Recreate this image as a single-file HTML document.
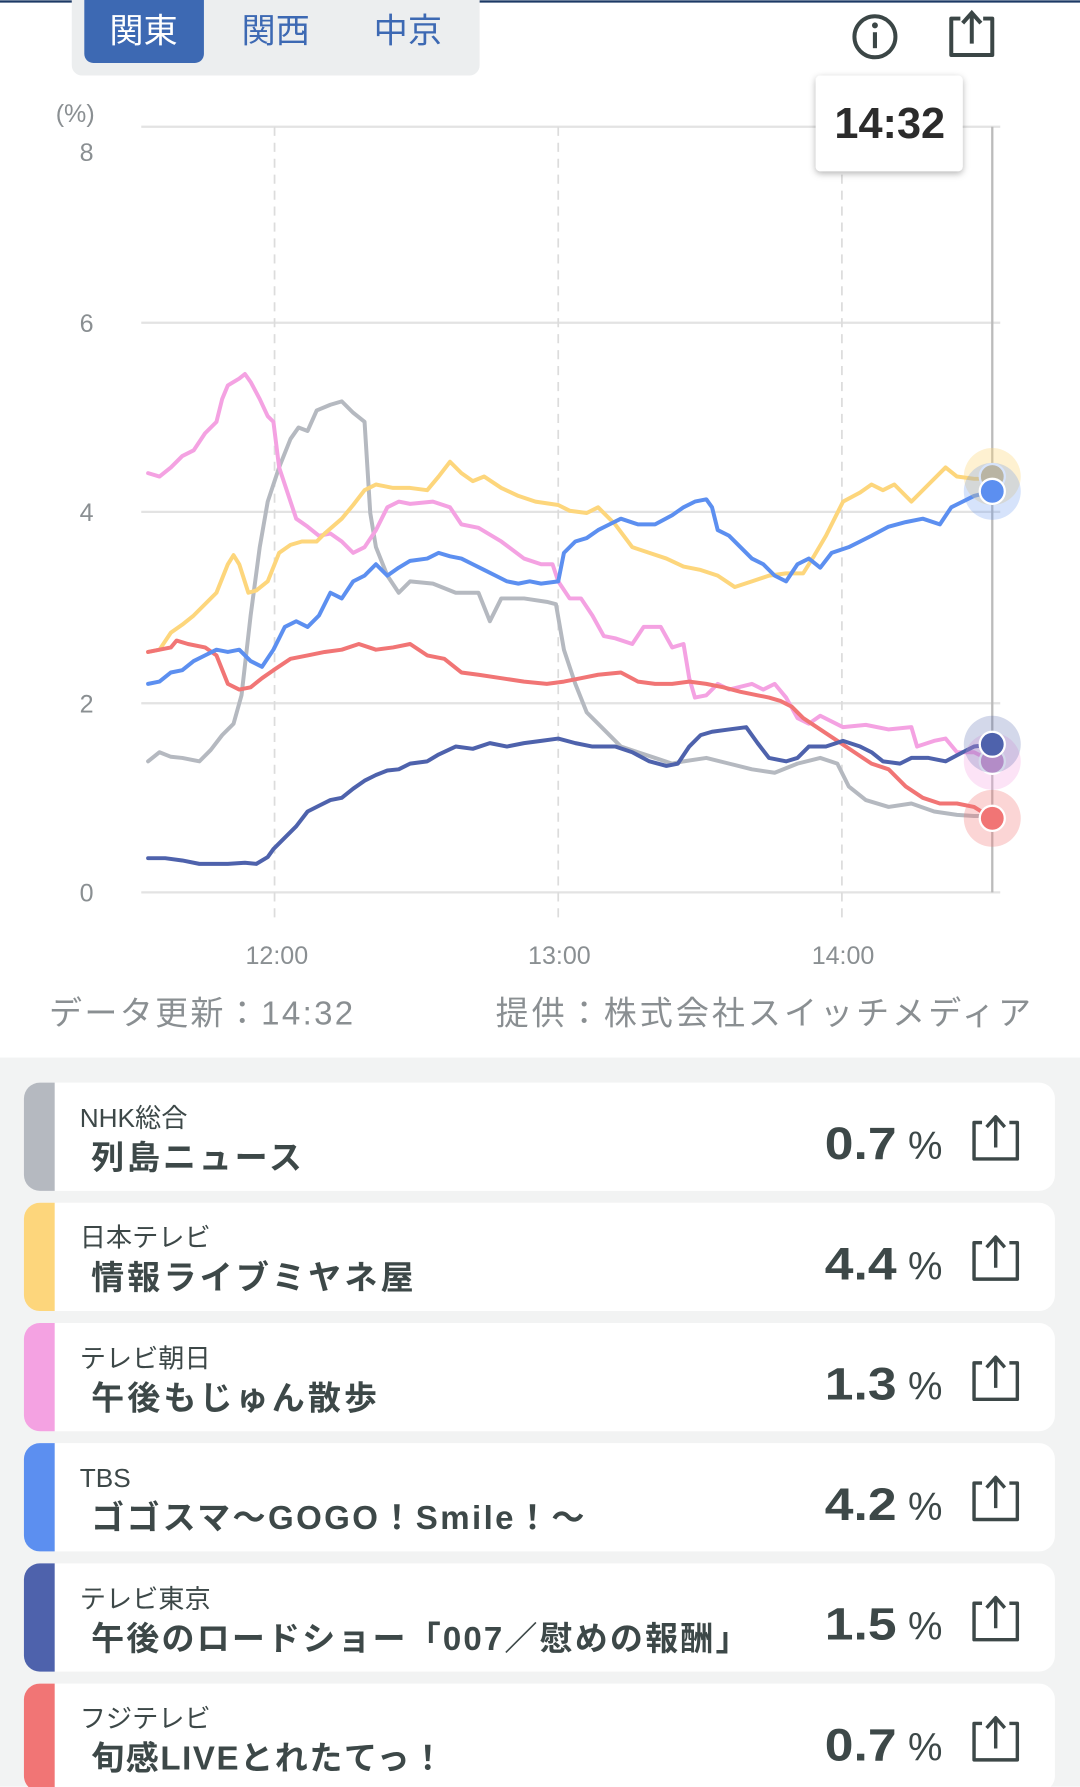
<!DOCTYPE html>
<html><head><meta charset="utf-8"><style>
html,body{margin:0;padding:0;background:#fff;}
svg{display:block;}
text{font-family:"Liberation Sans","Noto Sans CJK JP",sans-serif;}
</style></head><body>
<svg width="1080" height="1787" viewBox="0 0 948 1568" xmlns="http://www.w3.org/2000/svg">
<defs>
<filter id="sh" x="-20%" y="-20%" width="140%" height="150%"><feDropShadow dx="0" dy="2" stdDeviation="3" flood-color="#000" flood-opacity="0.3"/></filter>
</defs>
<rect x="0" y="0" width="948" height="1568" fill="#fff"/>
<rect x="0" y="0" width="948" height="2" fill="#1d3a66"/>
<!-- tabs -->
<rect x="63" y="-10" width="358" height="76" rx="9" fill="#eceeef"/>
<rect x="74" y="-10" width="105" height="65" rx="8" fill="#3d69b3"/>
<text x="126" y="37" font-size="30" fill="#fff" text-anchor="middle">関東</text>
<text x="242" y="37" font-size="30" fill="#3d69b3" text-anchor="middle">関西</text>
<text x="358" y="37" font-size="30" fill="#3d69b3" text-anchor="middle">中京</text>
<!-- icons -->
<circle cx="768" cy="32" r="18" fill="none" stroke="#3b4646" stroke-width="3.5"/>
<circle cx="768" cy="22" r="2.6" fill="#3b4646"/>
<rect x="766.2" y="28" width="3.6" height="14" fill="#3b4646"/>
<path d="M843 16 L835 16 L835 48 L871 48 L871 16 L863 16" fill="none" stroke="#3b4646" stroke-width="3.5" stroke-linejoin="round"/>
<path d="M853 38 L853 12 M845 20 L853 11 L861 20" fill="none" stroke="#3b4646" stroke-width="3.5"/>
<!-- grid -->
<g stroke="#e3e3e3" stroke-width="2">
<line x1="124" y1="111" x2="878" y2="111"/>
<line x1="124" y1="283" x2="878" y2="283"/>
<line x1="124" y1="449" x2="878" y2="449"/>
<line x1="124" y1="617" x2="878" y2="617"/>
<line x1="124" y1="783" x2="878" y2="783"/>
</g>
<g stroke="#dcdcdc" stroke-width="1.5" stroke-dasharray="8,6">
<line x1="241" y1="111" x2="241" y2="810"/>
<line x1="490" y1="111" x2="490" y2="810"/>
<line x1="739" y1="111" x2="739" y2="810"/>
</g>
<line x1="871" y1="111" x2="871" y2="783" stroke="#bbb" stroke-width="2"/>
<g font-size="22" fill="#8a8f92" text-anchor="middle">
<text x="66" y="107">(%)</text>
<text x="76" y="141">8</text>
<text x="76" y="291">6</text>
<text x="76" y="457">4</text>
<text x="76" y="625">2</text>
<text x="76" y="791">0</text>
<text x="243" y="846">12:00</text>
<text x="491" y="846">13:00</text>
<text x="740" y="846">14:00</text>
</g>
<g fill="none" stroke-width="3.5" stroke-linejoin="round" stroke-linecap="round">
<polyline stroke="#b5b9c0" points="130,668 140,660 150,664 160,665 175,668 185,658 195,645 205,635 212,610 220,540 228,480 235,440 245,410 255,385 262,375 270,378 278,360 290,355 300,352 310,362 320,370 325,450 330,480 340,505 350,520 360,510 380,512 400,520 420,520 430,545 440,525 460,525 480,528 488,530 495,570 505,600 515,625 530,640 545,655 560,660 575,665 590,670 600,668 620,665 640,670 660,675 680,678 700,670 720,665 735,670 745,690 760,702 780,708 800,705 820,712 840,715 855,716 871,716"/>
<polyline stroke="#f4a2e2" points="130,415 140,418 150,410 160,400 170,395 180,380 190,370 195,350 200,338 210,332 215,328 220,335 228,350 235,365 240,370 245,410 255,440 260,455 270,462 280,470 290,468 300,475 310,485 320,480 330,465 340,445 350,440 360,442 380,440 395,445 405,460 420,463 440,475 460,490 475,495 485,495 490,510 500,525 510,525 520,540 530,558 540,560 555,565 565,550 580,550 590,568 600,565 605,595 610,612 620,610 630,600 640,605 660,600 670,605 680,600 690,612 700,630 710,635 720,628 740,638 760,636 780,640 800,638 805,655 820,650 830,648 840,660 855,660 871,668"/>
<polyline stroke="#fdd67c" points="130,572 140,570 150,555 160,548 170,540 180,530 190,520 200,495 205,487 210,495 218,520 225,518 235,510 245,485 255,478 265,475 278,475 285,468 300,455 310,443 320,430 330,425 345,428 360,428 375,430 385,418 395,405 405,415 415,422 425,418 440,428 455,435 470,440 490,443 500,448 515,450 525,445 540,460 555,480 570,485 585,490 600,497 615,500 630,505 645,515 660,510 675,505 690,503 705,503 715,487 725,470 740,440 755,432 765,425 775,430 785,425 800,440 815,425 830,410 840,418 855,420 871,420"/>
<polyline stroke="#f17575" points="130,572 140,570 150,568 155,562 165,565 180,568 190,575 200,600 210,605 220,603 230,595 240,588 255,578 270,575 285,572 300,570 315,565 330,570 345,568 360,565 375,575 390,578 405,590 420,592 440,595 460,598 480,600 495,598 510,595 525,592 545,590 560,598 575,600 590,600 605,598 620,600 635,603 650,607 665,610 675,612 685,615 695,620 705,630 720,640 735,650 750,660 765,670 780,675 795,690 810,700 825,705 840,705 855,708 871,718"/>
<polyline stroke="#5c8ff0" points="130,600 140,598 150,590 160,588 170,580 180,575 190,570 200,572 210,570 220,580 230,585 240,570 250,550 260,545 270,550 280,540 290,520 300,525 310,510 320,505 330,495 340,505 350,498 360,492 375,490 385,485 395,488 405,490 415,495 425,500 435,505 445,510 455,512 465,510 475,512 490,510 495,485 505,475 515,472 525,465 535,460 545,455 560,460 575,460 590,452 600,445 610,440 620,438 625,445 630,465 640,470 650,480 660,490 670,495 680,505 690,510 700,495 710,490 720,498 730,485 745,480 755,475 765,470 780,462 795,458 810,455 825,460 835,445 845,440 855,435 871,431"/>
<polyline stroke="#4e62ac" points="130,753 145,753 160,755 175,758 200,758 215,757 225,758 235,752 240,745 250,735 260,725 270,712 280,707 290,702 300,700 310,692 320,685 330,680 340,676 350,675 360,670 375,668 385,662 400,655 415,657 430,652 445,655 460,652 475,650 490,648 505,652 520,655 540,655 555,660 570,668 585,672 595,670 605,655 615,645 625,642 640,640 655,638 665,652 675,665 690,668 700,665 710,655 725,655 740,650 755,655 765,660 775,668 790,670 800,665 815,665 830,668 845,660 855,655 871,653"/>
</g>
<!-- dots -->
<circle cx="871" cy="418" r="25" fill="#fdd67c" opacity="0.35"/>
<circle cx="871" cy="418" r="11" fill="#d8c08a" stroke="#fff" stroke-width="2"/>
<circle cx="871" cy="431" r="25" fill="#5c8ff0" opacity="0.25"/>
<circle cx="871" cy="431" r="11" fill="#5c8ff0" stroke="#fff" stroke-width="2"/>
<circle cx="871" cy="668" r="25" fill="#f4a2e2" opacity="0.3"/>
<circle cx="871" cy="668" r="11" fill="#d49ad0" stroke="#fff" stroke-width="2"/>
<circle cx="871" cy="653" r="25" fill="#4e62ac" opacity="0.25"/>
<circle cx="871" cy="653" r="11" fill="#4e62ac" stroke="#fff" stroke-width="2"/>
<circle cx="871" cy="718" r="25" fill="#f17575" opacity="0.3"/>
<circle cx="871" cy="718" r="11" fill="#f17575" stroke="#fff" stroke-width="2"/>
<!-- tooltip -->
<rect x="716" y="66" width="129" height="84" rx="4" fill="#fff" filter="url(#sh)"/>
<text x="781" y="121" font-size="38" font-weight="bold" fill="#2b2b2b" text-anchor="middle">14:32</text>
<!-- footer -->
<text x="43" y="899" font-size="29" fill="#8a8f92" textLength="267" lengthAdjust="spacing">データ更新：14:32</text>
<text x="435" y="899" font-size="29" fill="#8a8f92" textLength="470" lengthAdjust="spacing">提供：株式会社スイッチメディア</text>
<rect x="0" y="928" width="948" height="640" fill="#f2f3f3"/>
<!-- cards -->
<g>
<g transform="translate(0,0)">
<rect x="21" y="950" width="905" height="95" rx="14" fill="#fff"/>
<path d="M35 950 H48 V1045 H35 A14 14 0 0 1 21 1031 V964 A14 14 0 0 1 35 950Z" fill="#b5b9c0"/>
</g>
<g transform="translate(0,105.5)">
<rect x="21" y="950" width="905" height="95" rx="14" fill="#fff"/>
<path d="M35 950 H48 V1045 H35 A14 14 0 0 1 21 1031 V964 A14 14 0 0 1 35 950Z" fill="#fdd67c"/>
</g>
<g transform="translate(0,211)">
<rect x="21" y="950" width="905" height="95" rx="14" fill="#fff"/>
<path d="M35 950 H48 V1045 H35 A14 14 0 0 1 21 1031 V964 A14 14 0 0 1 35 950Z" fill="#f4a2e2"/>
</g>
<g transform="translate(0,316.5)">
<rect x="21" y="950" width="905" height="95" rx="14" fill="#fff"/>
<path d="M35 950 H48 V1045 H35 A14 14 0 0 1 21 1031 V964 A14 14 0 0 1 35 950Z" fill="#5c8ff0"/>
</g>
<g transform="translate(0,422)">
<rect x="21" y="950" width="905" height="95" rx="14" fill="#fff"/>
<path d="M35 950 H48 V1045 H35 A14 14 0 0 1 21 1031 V964 A14 14 0 0 1 35 950Z" fill="#4e62ac"/>
</g>
<g transform="translate(0,527.5)">
<rect x="21" y="950" width="905" height="95" rx="14" fill="#fff"/>
<path d="M35 950 H48 V1045 H35 A14 14 0 0 1 21 1031 V964 A14 14 0 0 1 35 950Z" fill="#f17575"/>
</g>
</g>
<g fill="#3d4848">
<g font-size="23">
<text x="70" y="989">NHK総合</text>
<text x="70" y="1094">日本テレビ</text>
<text x="70" y="1200">テレビ朝日</text>
<text x="70" y="1305">TBS</text>
<text x="70" y="1411">テレビ東京</text>
<text x="70" y="1516">フジテレビ</text>
</g>
<g font-size="29" font-weight="bold">
<text x="80" y="1026" textLength="185" lengthAdjust="spacing">列島ニュース</text>
<text x="80" y="1131" textLength="283" lengthAdjust="spacing">情報ライブミヤネ屋</text>
<text x="80" y="1237" textLength="251" lengthAdjust="spacing">午後もじゅん散歩</text>
<text x="80" y="1342" textLength="433" lengthAdjust="spacing">ゴゴスマ〜GOGO！Smile！〜</text>
<text x="80" y="1448" textLength="577" lengthAdjust="spacing">午後のロードショー「007／慰めの報酬」</text>
<text x="80" y="1553" textLength="310" lengthAdjust="spacing">旬感LIVEとれたてっ！</text>
</g>
<g>
<text x="724" y="1017" textLength="63" lengthAdjust="spacingAndGlyphs" font-size="40" font-weight="bold">0.7</text>
<text x="724" y="1123" textLength="63" lengthAdjust="spacingAndGlyphs" font-size="40" font-weight="bold">4.4</text>
<text x="724" y="1228" textLength="63" lengthAdjust="spacingAndGlyphs" font-size="40" font-weight="bold">1.3</text>
<text x="724" y="1334" textLength="63" lengthAdjust="spacingAndGlyphs" font-size="40" font-weight="bold">4.2</text>
<text x="724" y="1439" textLength="63" lengthAdjust="spacingAndGlyphs" font-size="40" font-weight="bold">1.5</text>
<text x="724" y="1545" textLength="63" lengthAdjust="spacingAndGlyphs" font-size="40" font-weight="bold">0.7</text>
</g>
<g font-size="34">
<text x="797" y="1017">%</text>
<text x="797" y="1123">%</text>
<text x="797" y="1228">%</text>
<text x="797" y="1334">%</text>
<text x="797" y="1439">%</text>
<text x="797" y="1545">%</text>
</g>
</g>
<g fill="none" stroke="#3d4848" stroke-width="3" stroke-linejoin="round">
<g transform="translate(0,0)"><path d="M862 985 L855 985 L855 1017 L893 1017 L893 985 L886 985"/><path d="M874 1007 L874 981 M866 989 L874 980 L882 989"/></g>
<g transform="translate(0,105.5)"><path d="M862 985 L855 985 L855 1017 L893 1017 L893 985 L886 985"/><path d="M874 1007 L874 981 M866 989 L874 980 L882 989"/></g>
<g transform="translate(0,211)"><path d="M862 985 L855 985 L855 1017 L893 1017 L893 985 L886 985"/><path d="M874 1007 L874 981 M866 989 L874 980 L882 989"/></g>
<g transform="translate(0,316.5)"><path d="M862 985 L855 985 L855 1017 L893 1017 L893 985 L886 985"/><path d="M874 1007 L874 981 M866 989 L874 980 L882 989"/></g>
<g transform="translate(0,422)"><path d="M862 985 L855 985 L855 1017 L893 1017 L893 985 L886 985"/><path d="M874 1007 L874 981 M866 989 L874 980 L882 989"/></g>
<g transform="translate(0,527.5)"><path d="M862 985 L855 985 L855 1017 L893 1017 L893 985 L886 985"/><path d="M874 1007 L874 981 M866 989 L874 980 L882 989"/></g>
</g>
</svg>
</body></html>
